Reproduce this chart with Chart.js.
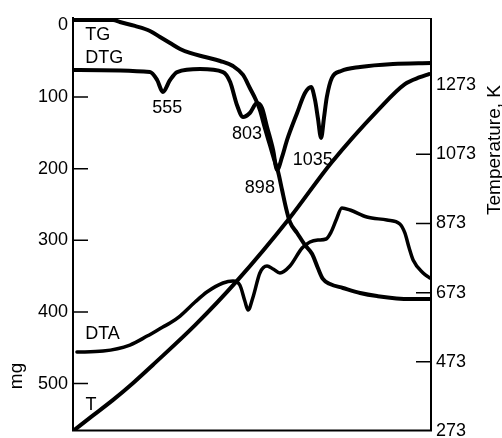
<!DOCTYPE html>
<html lang="en">
<head>
  <meta charset="UTF-8">
  <title>TG / DTG / DTA curves</title>
  <style>
    body {
      margin: 0;
      background: #fff;
    }
  </style>
</head>
<body>
  <canvas id="thermo" width="502" height="438"></canvas>

  <script src="https://cdn.jsdelivr.net/npm/chart.js"></script>
  <script>
    // run time on the x axis is arbitrary (0 = start, 100 = end), the original has no labels there
    const tgTime = [0, 11.2, 13.1, 17.3, 21.5, 24.3, 27.1, 29.9, 32.7, 36.9, 41.1, 44.7, 47.5, 49.4, 51.1, 52.2, 53.6, 55.0, 56.4, 57.3, 58.4, 59.5, 60.6, 62.6, 64.8, 66.8, 68.4, 69.8, 71.8, 75.4, 80.2, 84.9, 94.1, 100];
    const tgMass = [-7.5, -7.5, -4.7, 0.8, 7.8, 16.2, 24.6, 32.9, 38.5, 44.1, 49.7, 56.7, 69.2, 87.4, 104.1, 118.1, 143.2, 167.0, 190.7, 204.7, 229.8, 254.9, 274.5, 289.8, 306.6, 319.1, 338.7, 354.0, 361.0, 366.6, 373.6, 377.8, 382.0, 382.0];

    const dtgTime = [0, 21.5, 23.5, 25.1, 27.1, 29.1, 35.5, 41.9, 43.9, 45.8, 47.5, 49.4, 51.4, 52.8, 54.2, 55.9, 57.0, 58.4, 59.8, 62.6, 64.8, 66.5, 67.6, 68.4, 69.3, 70.1, 70.9, 72.3, 74.9, 80.2, 89.4, 100];
    const dtgMass = [62.3, 65.1, 76.2, 93.0, 76.2, 65.1, 60.9, 65.1, 79.0, 111.1, 127.9, 122.3, 108.3, 115.3, 141.8, 173.9, 201.8, 183.7, 159.9, 122.3, 94.4, 86.0, 104.1, 129.2, 157.1, 129.2, 100.0, 73.4, 63.7, 58.1, 53.9, 52.5];

    const dtaTime = [1.1, 8.4, 15.9, 20.7, 25.1, 27.1, 29.9, 34.1, 37.4, 41.9, 44.7, 46.6, 48.0, 48.9, 50.3, 52.2, 54.2, 55.9, 57.8, 60.6, 64.0, 66.2, 68.4, 70.7, 72.1, 73.5, 75.1, 77.4, 82.1, 87.7, 91.3, 92.7, 93.9, 95.0, 97.8, 99.7];
    const dtaMass = [456.0, 454.6, 446.2, 433.7, 421.1, 415.5, 405.7, 386.2, 372.2, 359.6, 356.8, 362.4, 384.8, 397.3, 379.1, 345.6, 335.9, 340.1, 345.6, 335.9, 310.8, 302.4, 299.6, 298.2, 288.4, 271.7, 254.9, 257.7, 267.5, 271.7, 277.3, 289.8, 310.8, 327.5, 345.6, 352.6];

    const tTime = [0, 4.7, 11.2, 16.8, 22.3, 34.1, 45.8, 60.3, 72.1, 85.2, 92.7, 96.9, 99.4];
    const tKelvin = [273, 311, 363, 412, 464, 579, 707, 886, 1048, 1201, 1276, 1296, 1305];

    // axis ticks
    const mgTicks = [0, 100, 200, 300, 400, 500];
    const mgMarks = [100, 200, 300, 400, 500];
    const tempTicks = [273, 473, 673, 873, 1073, 1273];
    const tempMarks = [473, 673, 873, 1073];

    // curve labels, placed in data units (x = run time, y = mg)
    const notes = [
      { text: 'TG', x: 3.4, y: 13, align: 'left' },
      { text: 'DTG', x: 3.4, y: 45, align: 'left' },
      { text: '555', x: 26.3, y: 115, align: 'center' },
      { text: '803', x: 48.6, y: 152, align: 'center' },
      { text: '898', x: 52.2, y: 227, align: 'center' },
      { text: '1035', x: 67.0, y: 188, align: 'center' },
      { text: 'DTA', x: 3.4, y: 431, align: 'left' },
      { text: 'T', x: 5.0, y: 530, align: 'center' }
    ];

    const FONT = '"Liberation Sans", Arial, sans-serif';

    function zip(xs, ys) {
      return xs.map((x, i) => ({ x: x, y: ys[i] }));
    }

    // frame, short inward tick marks, curve labels and rotated axis titles
    const extras = {
      id: 'extras',
      afterDraw(chart) {
        const { ctx, chartArea: a, scales } = chart;
        ctx.save();
        ctx.strokeStyle = '#000';
        ctx.lineWidth = 2;
        ctx.beginPath();
        ctx.moveTo(a.left, a.top - 1);
        ctx.lineTo(a.left, a.bottom - 0.5);
        ctx.lineTo(a.right, a.bottom - 0.5);
        ctx.lineTo(a.right, a.top);
        ctx.stroke();
        ctx.lineWidth = 1;
        ctx.beginPath();
        ctx.moveTo(a.left, a.top + 0.5);
        ctx.lineTo(a.right, a.top + 0.5);
        ctx.stroke();

        ctx.lineWidth = 1.5;
        ctx.beginPath();
        mgMarks.forEach(v => {
          const y = scales.mg.getPixelForValue(v);
          ctx.moveTo(a.left, y);
          ctx.lineTo(a.left + 15, y);
        });
        tempMarks.forEach(v => {
          const y = scales.temp.getPixelForValue(v);
          ctx.moveTo(a.right - 15, y);
          ctx.lineTo(a.right, y);
        });
        ctx.stroke();

        ctx.fillStyle = '#000';
        ctx.font = '18px ' + FONT;
        ctx.textBaseline = 'middle';
        notes.forEach(n => {
          ctx.textAlign = n.align;
          ctx.fillText(n.text, scales.x.getPixelForValue(n.x), scales.mg.getPixelForValue(n.y));
        });

        ctx.font = '19px ' + FONT;
        ctx.textAlign = 'center';
        ctx.save();
        ctx.translate(17, 376);
        ctx.rotate(-Math.PI / 2);
        ctx.fillText('mg', 0, 0);
        ctx.restore();
        ctx.save();
        ctx.translate(495, 150);
        ctx.rotate(-Math.PI / 2);
        ctx.fillText('Temperature, K', 0, 0);
        ctx.restore();
        ctx.restore();
      }
    };

    const axisStyle = {
      grid: { display: false, drawTicks: false },
      border: { display: false },
      ticks: {
        padding: 5,
        color: '#000',
        font: { family: FONT, size: 18 },
        callback: v => String(v)
      }
    };

    new Chart(document.getElementById('thermo'), {
      type: 'line',
      data: {
        datasets: [
          { label: 'TG', data: zip(tgTime, tgMass), yAxisID: 'mg', borderWidth: 4 },
          { label: 'DTG', data: zip(dtgTime, dtgMass), yAxisID: 'mg', borderWidth: 4 },
          { label: 'DTA', data: zip(dtaTime, dtaMass), yAxisID: 'mg', borderWidth: 3.5 },
          { label: 'T', data: zip(tTime, tKelvin), yAxisID: 'temp', borderWidth: 4 }
        ]
      },
      options: {
        responsive: false,
        animation: false,
        layout: { padding: { top: 18, bottom: 7, left: 0, right: 0 } },
        elements: {
          line: { borderColor: '#000', fill: false, cubicInterpolationMode: 'monotone', borderCapStyle: 'round', borderJoinStyle: 'round' },
          point: { radius: 0 }
        },
        plugins: {
          legend: { display: false },
          tooltip: { enabled: false }
        },
        scales: {
          x: { type: 'linear', min: 0, max: 100, display: false },
          mg: {
            ...axisStyle,
            type: 'linear',
            position: 'left',
            reverse: true,
            min: -10.3,
            max: 566.2,
            afterBuildTicks: s => { s.ticks = mgTicks.map(v => ({ value: v })); },
            afterFit: s => { s.width = 73; s.paddingTop = 0; s.paddingBottom = 0; }
          },
          temp: {
            ...axisStyle,
            type: 'linear',
            position: 'right',
            min: 273,
            max: 1467,
            afterBuildTicks: s => { s.ticks = tempTicks.map(v => ({ value: v })); },
            afterFit: s => { s.width = 71; s.paddingTop = 0; s.paddingBottom = 0; }
          }
        }
      },
      plugins: [extras]
    });
  </script>
</body>
</html>
